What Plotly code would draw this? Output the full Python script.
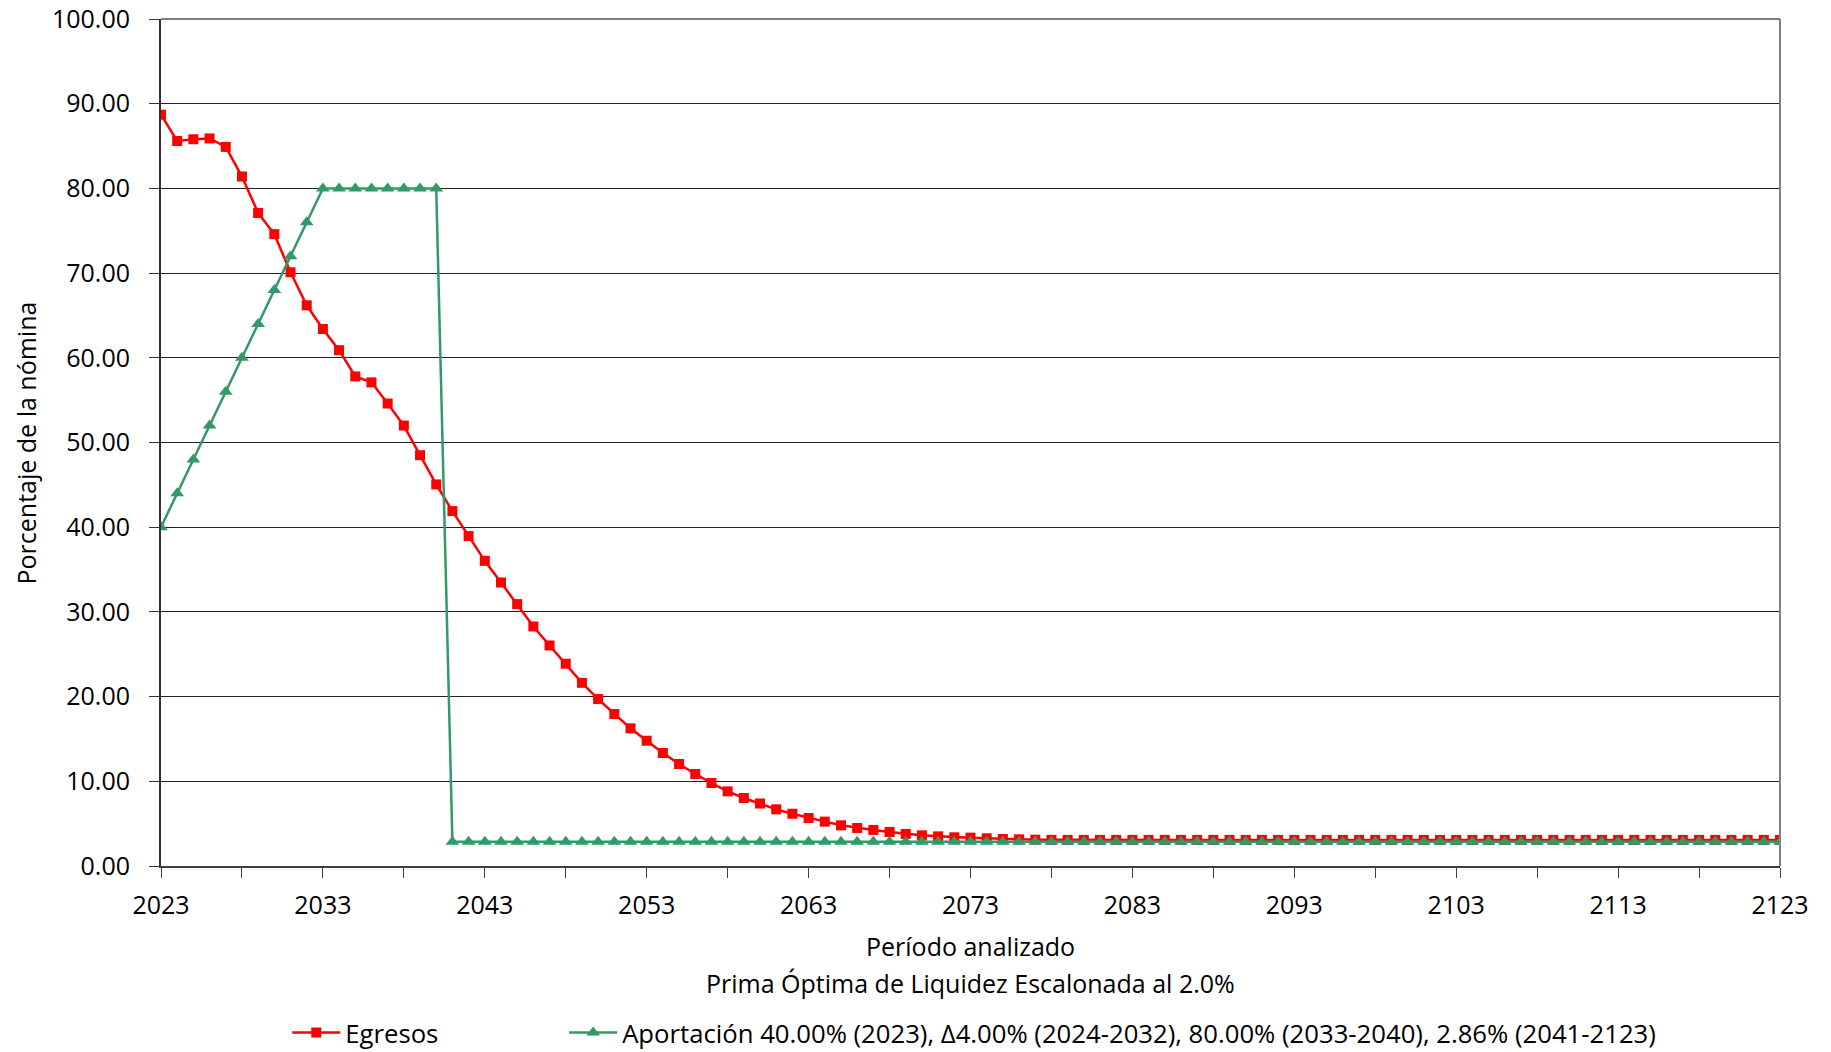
import plotly.graph_objects as go

years = list(range(2023, 2124))

egresos = [
    88.70, 85.60, 85.80, 85.90, 84.90, 81.40, 77.10, 74.60, 70.10, 66.20,
    63.40, 60.90, 57.80, 57.10, 54.60, 52.00, 48.50, 45.05, 41.90, 38.95,
    36.03, 33.47, 30.92, 28.28, 26.04, 23.88, 21.63, 19.71, 17.94, 16.25,
    14.79, 13.34, 12.04, 10.86, 9.80, 8.81, 8.03, 7.38, 6.69, 6.17,
    5.67, 5.24, 4.80, 4.49, 4.26, 4.02, 3.79, 3.62, 3.50, 3.39,
    3.35, 3.27, 3.19, 3.15, 3.11, 3.09, 3.08, 3.08, 3.08, 3.08,
    3.08, 3.08, 3.08, 3.08, 3.08, 3.08, 3.08, 3.08, 3.08, 3.08,
    3.08, 3.08, 3.08, 3.08, 3.08, 3.08, 3.08, 3.08, 3.08, 3.08,
    3.08, 3.08, 3.08, 3.08, 3.08, 3.08, 3.08, 3.08, 3.08, 3.08,
    3.08, 3.08, 3.08, 3.08, 3.08, 3.08, 3.08, 3.08, 3.08, 3.08,
    3.08,
]

aportacion = (
    [40.00, 44.00, 48.00, 52.00, 56.00, 60.00, 64.00, 68.00, 72.00, 76.00]
    + [80.00, 80.00, 80.00, 80.00, 80.00, 80.00, 80.00, 80.00]
    + [2.86] * 83
)

y_ticks = [0, 10, 20, 30, 40, 50, 60, 70, 80, 90, 100]
x_ticks = list(range(2023, 2124, 10))

FONT = "Open Sans"
FS = 25

fig = go.Figure()
fig.add_trace(go.Scatter(
    x=years, y=egresos, mode="lines+markers", name="Egresos",
    line=dict(color="#FF0000", width=2.5),
    marker=dict(symbol="square", size=10, color="#FF0000"),
    legend="legend",
))
fig.add_trace(go.Scatter(
    x=years, y=aportacion, mode="lines+markers",
    name="Aportación 40.00% (2023), Δ4.00% (2024-2032), 80.00% (2033-2040), 2.86% (2041-2123)",
    line=dict(color="#339966", width=2.5),
    marker=dict(symbol="triangle-up", size=12, color="#339966"),
    legend="legend2",
))

leg_common = dict(orientation="h", yanchor="middle", xanchor="left", itemwidth=48,
                  font=dict(size=25.7, family=FONT), bgcolor="rgba(0,0,0,0)")

fig.update_layout(
    width=1831, height=1052,
    margin=dict(l=161, r=51, t=19, b=186, autoexpand=False),
    paper_bgcolor="white", plot_bgcolor="white",
    font=dict(family=FONT, size=FS, color="#000000"),
    showlegend=True,
    legend=dict(x=0.078, y=-0.197, **leg_common),
    legend2=dict(x=0.249, y=-0.197, **leg_common),
    xaxis=dict(
        range=[2023, 2123], tickvals=x_ticks, ticktext=[str(v) for v in x_ticks],
        ticks="outside", ticklen=10, tickcolor="#404040",
        minor=dict(dtick=5, tick0=2023, ticks="outside", ticklen=10, tickcolor="#404040", showgrid=False),
        showgrid=False, zeroline=False, automargin=False,
        showline=True, linecolor="#404040", linewidth=2,
        tickfont=dict(size=FS), ticklabelstandoff=6, ticklabeloverflow="allow",
    ),
    yaxis=dict(
        range=[0, 100], tickvals=y_ticks, tickformat=".2f",
        ticks="outside", ticklen=10, tickcolor="#333333",
        showgrid=True, gridcolor="#222222", gridwidth=1,
        zeroline=False, showline=True, linecolor="#333333", linewidth=2,
        automargin=False,
        tickfont=dict(size=FS), ticklabelstandoff=14, ticklabeloverflow="allow",
    ),
    annotations=[
        dict(text="Período analizado", xref="paper", yref="paper", x=0.5, y=-0.095,
             xanchor="center", yanchor="middle", showarrow=False, font=dict(size=FS)),
        dict(text="Prima Óptima de Liquidez Escalonada al 2.0%", xref="paper", yref="paper",
             x=0.5, y=-0.138, xanchor="center", yanchor="middle", showarrow=False,
             font=dict(size=FS)),
        dict(text="Porcentaje de la nómina", xref="paper", yref="paper", x=-0.0834, y=0.5,
             xanchor="center", yanchor="middle", textangle=-90, showarrow=False,
             font=dict(size=FS)),
    ],
)

# top and right border of plot area
fig.add_shape(type="line", xref="paper", yref="paper", x0=0, x1=1, y0=1, y1=1,
              line=dict(color="#808080", width=2))
fig.add_shape(type="line", xref="paper", yref="paper", x0=1, x1=1, y0=0, y1=1,
              line=dict(color="#808080", width=2))

fig.write_html("out.html", config={"displayModeBar": False},
               post_script="document.body.style.margin='0';")
